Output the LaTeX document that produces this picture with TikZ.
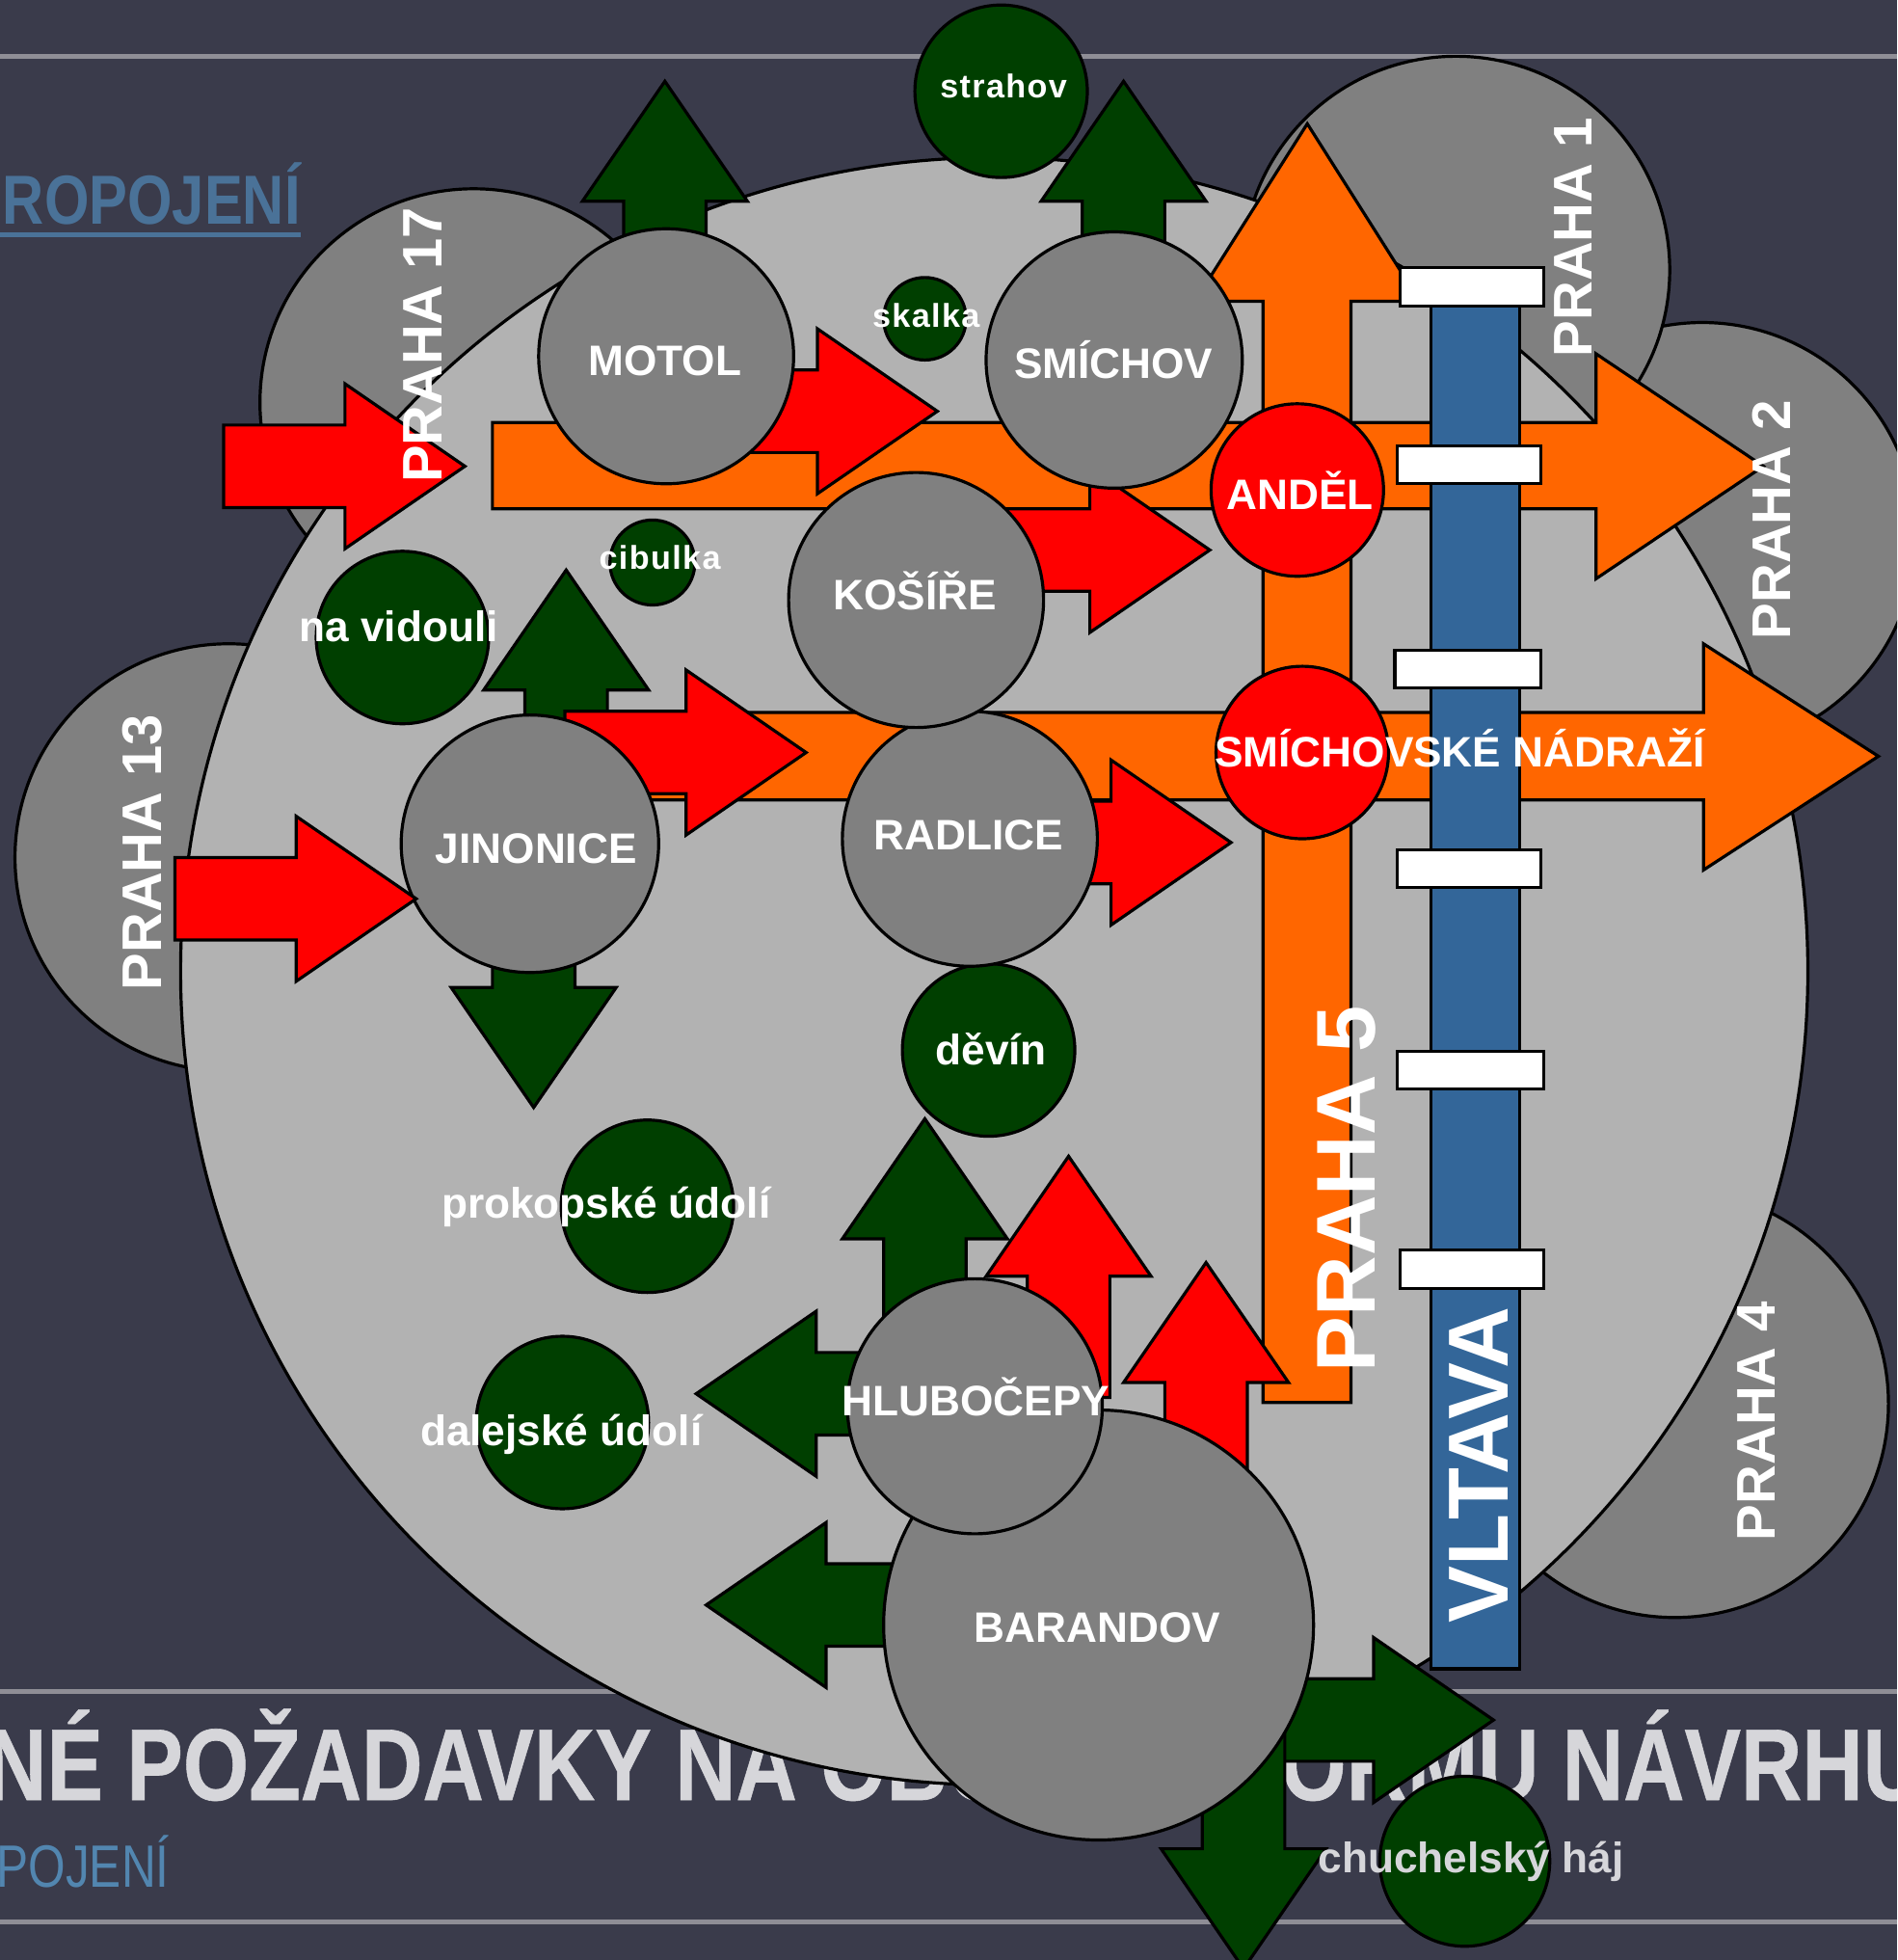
\documentclass[tikz,border=0pt]{standalone}
\usepackage{fontspec}
\setmainfont{Liberation Sans}
\definecolor{slidebg}{HTML}{3A3B4B}
\definecolor{slideline}{HTML}{8F8E96}
\definecolor{titlegray}{HTML}{D6D6DA}
\definecolor{linkblue}{HTML}{4A7298}
\definecolor{lowblue}{HTML}{5286B0}
\definecolor{citygray}{HTML}{B2B2B2}
\definecolor{quartergray}{HTML}{808080}
\definecolor{forest}{HTML}{003F00}
\definecolor{metroorange}{HTML}{FF6600}
\definecolor{riverblue}{HTML}{336699}
\tikzset{
  outline/.style={draw=black,line width=.7pt},
  quarter/.style={outline,fill=quartergray},
  greenarrow/.style={outline,fill=forest},
  redarrow/.style={outline,fill=red},
  metro/.style={outline,fill=metroorange},
  bridge/.style={outline,fill=white},
  label/.style={text=white,inner sep=0pt,text height=2.5mm,text depth=0pt,
    font=\fontsize{9.7pt}{11pt}\selectfont\bfseries},
  smalllabel/.style={label,text height=1.9mm,
    font=\fontsize{7.5pt}{9pt}\selectfont\bfseries\addfontfeature{LetterSpace=4}},
  sidelabel/.style={label,rotate=90,text height=3.2mm,
    font=\fontsize{12.4pt}{14pt}\selectfont\bfseries},
  biglabel/.style={label,rotate=90,text height=4.9mm,
    font=\fontsize{19pt}{21pt}\selectfont\bfseries},
  headline/.style={text=titlegray,inner sep=0pt,anchor=base west,xscale=.83,transform shape,
    font=\fontsize{23.2pt}{25pt}\selectfont\bfseries\addfontfeature{FakeBold=.6}},
}
% tip at #2, #3 = direction
\newcommand{\bigarrow}[3]{
  \draw[#1,shift={(#2)},rotate=#3] (0,0) -- (-96,66) -- (-96,33) -- (-193,33)
    -- (-193,-33) -- (-96,-33) -- (-96,-66) -- cycle;
}
\begin{document}
\begin{tikzpicture}[x=.1mm,y=-.1mm]
  \useasboundingbox (0,0) rectangle (1518,1568);
  \clip (0,0) rectangle (1518,1568);
  \fill[slidebg] (0,0) rectangle (1518,1568);

  \draw[slideline,line width=1.1pt] (0,45) -- (1518,45);
  \draw[slideline,line width=1.1pt] (0,1353) -- (1518,1353);
  \draw[slideline,line width=1.1pt] (0,1537.5) -- (1518,1537.5);

  \node[text=linkblue,inner sep=0pt,anchor=base east,xscale=.83,transform shape,
    font=\fontsize{15.8pt}{17pt}\selectfont\bfseries] (subtitletop) at (241,179) {ROPOJENÍ};
  \draw[linkblue,line width=1.1pt] (0,187.5) -- (241,187.5);
  \node[text=lowblue,inner sep=0pt,anchor=base east,xscale=.8,transform shape,
    font=\fontsize{13.6pt}{15pt}\selectfont] (subtitlelow) at (136,1510) {POJENÍ};
  \node[headline] (titleleft) at (-12,1440) {NÉ POŽADAVKY NA OBC};
  \node[headline] (titleright) at (1024,1440) {ORMU NÁVRHU};

  % city districts
  \draw[quarter] (1362,429) circle (171);
  \draw[quarter] (379,322) circle (171);
  \draw[quarter] (1165,216) circle (171);
  \draw[quarter] (183,686) circle (171);
  \draw[quarter] (1340,1123) circle (171);
  \draw[outline,fill=citygray] (795.5,777) circle (651);

  \draw[greenarrow] (801,73) circle (69);
  \draw[greenarrow] (740,255) circle (33);
  \draw[greenarrow] (522,450) circle (34);
  \draw[greenarrow] (322,510) circle (69);
  \draw[greenarrow] (791,840) circle (69);
  \draw[greenarrow] (518,965) circle (69);
  \draw[greenarrow] (450,1138) circle (69);

  % metro lines
  \draw[metro] (394,338) -- (1277,338) -- (1277,283) -- (1411,373) -- (1277,463)
    -- (1277,407) -- (394,407) -- cycle;
  \draw[metro] (500,570) -- (1363,570) -- (1363,515) -- (1503,605) -- (1363,696)
    -- (1363,640) -- (500,640) -- cycle;
  \draw[metro] (1010.5,1122) -- (1010.5,241) -- (956,241) -- (1046,99) -- (1136,241)
    -- (1081,241) -- (1081,1122) -- cycle;

  % river
  \draw[outline,fill=riverblue] (1145,230) rectangle (1216,1335);
  \draw[bridge] (1120,214) rectangle (1235,245);
  \draw[bridge] (1118,357) rectangle (1233,387);
  \draw[bridge] (1116,520) rectangle (1233,550);
  \draw[bridge] (1118,680) rectangle (1233,710);
  \draw[bridge] (1118,841) rectangle (1235,871);
  \draw[bridge] (1120,1000) rectangle (1235,1031);

  \bigarrow{greenarrow}{532,65}{90}
  \bigarrow{greenarrow}{899,65}{90}
  \bigarrow{greenarrow}{453,456}{90}
  \bigarrow{greenarrow}{427,886}{-90}
  \bigarrow{greenarrow}{740,895}{90}
  \bigarrow{greenarrow}{557,1115}{180}
  \bigarrow{greenarrow}{565,1284}{180}
  \bigarrow{greenarrow}{1195,1376}{0}
  \bigarrow{greenarrow}{995,1575}{-90}
  \draw[greenarrow] (1172,1489) circle (68);

  \bigarrow{redarrow}{372,373}{0}
  \bigarrow{redarrow}{750,329}{0}
  \bigarrow{redarrow}{968,440}{0}
  \bigarrow{redarrow}{645,602}{0}
  \bigarrow{redarrow}{985,674}{0}
  \bigarrow{redarrow}{855,925}{90}
  \bigarrow{redarrow}{965,1010}{90}

  % stations
  \draw[quarter] (533,285) circle (102);
  \draw[quarter] (891.5,288) circle (102.5);
  \draw[quarter] (776,671) circle (102);
  \draw[quarter] (733,480) circle (102);
  \draw[quarter] (424,675) circle (103);
  \draw[quarter] (879,1300) circle (172);
  \draw[quarter] (780,1125) circle (102);
  \bigarrow{redarrow}{333,719}{0}
  \draw[redarrow] (1038,392) circle (69);
  \draw[redarrow] (1042,602) circle (69);

  \node[smalllabel] (strahov) at (803,69) {strahov};
  \node[smalllabel] (skalka) at (741,252) {skalka};
  \node[smalllabel] (cibulka) at (528,446) {cibulka};
  \node[label] (vidoule) at (319,501) {na vidouli};
  \node[label] (devin) at (793,839) {děvín};
  \node[label] (prokopy) at (485,962) {prokopské údolí};
  \node[label] (daleje) at (449,1144) {dalejské údolí};
  \node[label,text=titlegray] (chuchle) at (1177,1486) {chuchelský háj};

  \node[label] (motol) at (532,288) {MOTOL};
  \node[label] (smichov) at (891,290) {SMÍCHOV};
  \node[label] (kosire) at (732,475) {KOŠÍŘE};
  \node[label] (andel) at (1040,395) {ANDĚL};
  \node[label] (nadrazi) at (1168,601) {SMÍCHOVSKÉ NÁDRAŽÍ};
  \node[label] (jinonice) at (429,678) {JINONICE};
  \node[label] (radlice) at (775,667) {RADLICE};
  \node[label] (hlubocepy) at (781,1120) {HLUBOČEPY};
  \node[label] (barandov) at (878,1301) {BARANDOV};

  \node[sidelabel,font=\fontsize{12.7pt}{14pt}\selectfont\bfseries] (praha17) at (338,276) {PRAHA 17};
  \node[sidelabel,font=\fontsize{12.7pt}{14pt}\selectfont\bfseries] (praha13) at (113,682) {PRAHA 13};
  \node[sidelabel] (praha1) at (1258,190) {PRAHA 1};
  \node[sidelabel] (praha2) at (1417,416) {PRAHA 2};
  \node[sidelabel] (praha4) at (1404,1137) {PRAHA 4};
  \node[biglabel] (praha5) at (1076,951) {PRAHA 5};
  \node[biglabel,font=\fontsize{19.4pt}{21pt}\selectfont\bfseries] (vltava) at (1182,1172) {VLTAVA};
\end{tikzpicture}
\end{document}
